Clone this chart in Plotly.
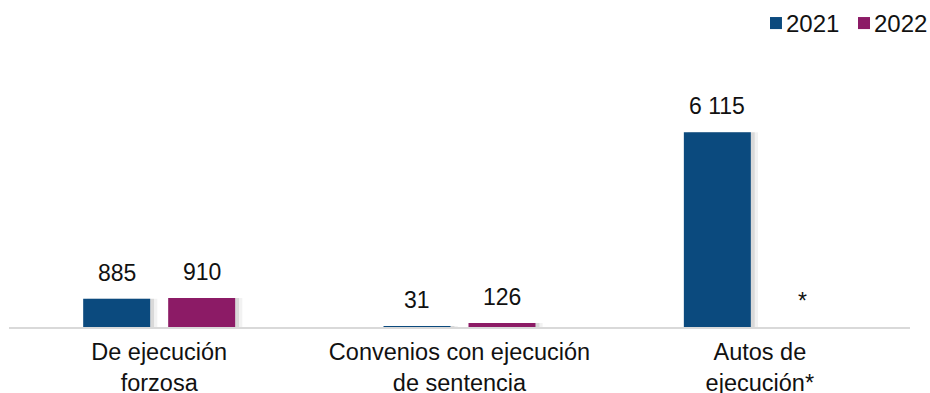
import plotly.graph_objects as go

categories = ["De ejecución<br>forzosa", "Convenios con ejecución<br>de sentencia", "Autos de<br>ejecución*"]
years = ["2021", "2022"]
values_2021 = [885, 31, 6115]
values_2022 = [910, 126, None]
colors = {"2021": "#0b4a7e", "2022": "#8c1b66"}

BAR_W = 0.223
offsets = {"2021": -0.253, "2022": 0.03}


def fmt(v):
    if v is None:
        return "*"
    return f"{v:,}".replace(",", " ")


fig = go.Figure()

series = {"2021": values_2021, "2022": values_2022}

# sombras suaves detrás de las barras (dos capas)
for dx, alpha in [(0.024, 0.05), (0.013, 0.10)]:
    for yr in years:
        fig.add_trace(go.Bar(
            x=categories, y=series[yr],
            width=BAR_W, offset=offsets[yr] + dx,
            marker=dict(color=f"rgba(0,0,0,{alpha})", line=dict(width=0)),
            showlegend=False, hoverinfo="skip",
        ))

for yr in years:
    fig.add_trace(go.Bar(
        x=categories, y=series[yr], name=yr,
        width=BAR_W, offset=offsets[yr],
        marker=dict(color=colors[yr], line=dict(width=0)),
        showlegend=False,
    ))

# étiquettes de valeur
for yr in years:
    for cat, v in zip(categories, series[yr]):
        fig.add_annotation(
            x=cat, y=v if v is not None else 0,
            xref="x", yref="y",
            xshift=(offsets[yr] + BAR_W / 2) * 300,
            yshift=11, yanchor="bottom",
            text=fmt(v), showarrow=False,
            font=dict(size=23, color="#111111"),
        )

# légende manuelle : carré + année
legend_x = {"2021": 0.8446, "2022": 0.9423}
for yr in years:
    x0 = legend_x[yr]
    fig.add_shape(
        type="rect", xref="paper", yref="paper",
        x0=x0, x1=x0 + 0.0133, y0=1.336, y1=1.390,
        fillcolor=colors[yr], line=dict(width=0),
    )
    fig.add_annotation(
        x=x0 + 0.0155, y=1.363, xref="paper", yref="paper",
        xanchor="left", yanchor="middle", showarrow=False,
        text=yr, font=dict(size=24, color="#111111"),
    )

fig.update_layout(
    width=930, height=393,
    margin=dict(l=9, r=20, t=104, b=66),
    barmode="overlay",
    plot_bgcolor="white", paper_bgcolor="white",
    font=dict(family="Liberation Sans, Arial, sans-serif", color="#111111"),
    showlegend=False,
    xaxis=dict(
        range=[-0.5, 2.5], automargin=False,
        showline=True, linecolor="#d9d9d9", linewidth=2,
        showgrid=False, ticks="", tickfont=dict(size=23.5),
        ticklabelstandoff=3, fixedrange=True,
    ),
    yaxis=dict(
        range=[0, 7000], visible=False, showgrid=False, zeroline=False,
        automargin=False,
    ),
)

fig.write_html(
    "out.html",
    config={"displayModeBar": False},
    post_script="document.body.style.margin='0';document.body.style.overflow='hidden';",
)
